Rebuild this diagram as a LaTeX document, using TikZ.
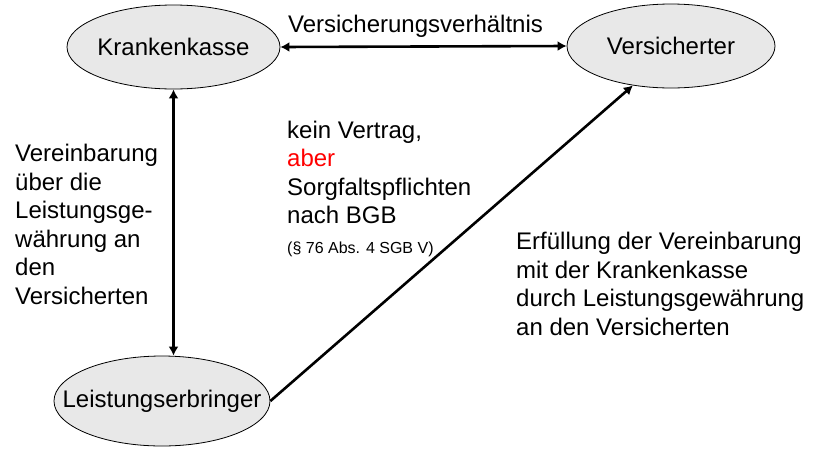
\documentclass[tikz,border=0pt]{standalone}
\usepackage{fontspec}
\setmainfont{Liberation Sans}
\usetikzlibrary{arrows.meta,shapes.geometric}
\definecolor{ellfill}{HTML}{E8E8E8}
\tikzset{
  party/.style={ellipse, draw=black, line width=0.8pt, fill=ellfill, inner sep=0pt},
  partylabel/.style={inner sep=0pt, font=\fontsize{24}{28.5}\selectfont},
  rel/.style={line width=2.6pt, {Latex[length=9pt,width=10pt]}-{Latex[length=9pt,width=10pt]}},
  relone/.style={line width=2.6pt, -{Latex[length=9pt,width=10pt]}},
  txt/.style={inner sep=0pt, align=left, font=\fontsize{24}{28.5}\selectfont},
  smalltxt/.style={inner sep=0pt, font=\fontsize{16}{19}\selectfont}
}
\begin{document}
\begin{tikzpicture}[x=1pt,y=-1pt]
\useasboundingbox (0,0) rectangle (823,448);
\node[party, minimum width=213pt, minimum height=84pt] (kk) at (173.5,47) {};
\node[partylabel] (kkt) at (kk.center) {Krankenkasse};
\node[party, minimum width=208pt, minimum height=84pt] (vs) at (671,46) {};
\node[partylabel] (vst) at (vs.center) {Versicherter};
\node[party, minimum width=216pt, minimum height=90pt] (le) at (162,401) {};
\node[partylabel] (let) at (le.center) {Leistungserbringer};

\draw[rel] (kk.east) -- (vs.west);
\node[txt, anchor=base] (lab1) at (415.5,32) {Versicherungsverhältnis};
\coordinate (kkb) at (kk.south);
\coordinate (leb) at (kkb |- le.north);
\draw[rel] (kkb) -- (leb);
\draw[relone] (le.east) -- (vs.226);

\node[txt, anchor=north west] (ltxt) at (15,144) {Vereinbarung\\über die\\Leistungsge-\\währung an\\den\\Versicherten};
\node[txt, anchor=north west] (mtxt) at (287,120.5) {kein Vertrag,\\\textcolor{red}{aber}\\Sorgfaltspflichten\\nach BGB};
\node[smalltxt, anchor=base west] (stxt) at (287,253) {(§ 76 Abs. 4 SGB V)};
\node[txt, anchor=north west] (rtxt) at (516,232) {Erfüllung der Vereinbarung\\mit der Krankenkasse\\durch Leistungsgewährung\\an den Versicherten};
\end{tikzpicture}
\end{document}
